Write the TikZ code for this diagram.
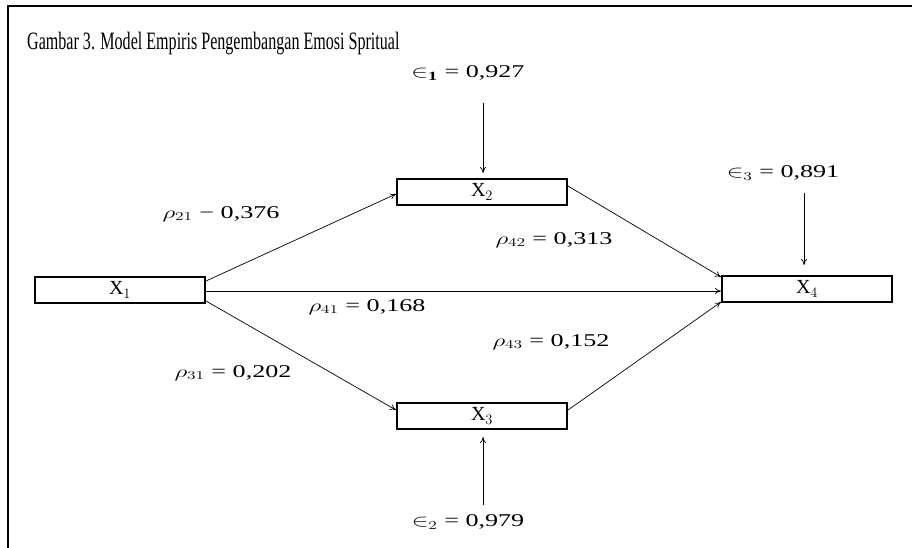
\documentclass[tikz,border=0pt]{standalone}
\usepackage{fontspec}
\setmainfont{Liberation Serif}
\usetikzlibrary{arrows.meta}
\newcommand\widetext[1]{\scalebox{1.45}[1]{#1}}
\begin{document}
\begin{tikzpicture}[x=1pt,y=-1pt,
  var/.style={draw,line width=2pt,minimum width=170pt,minimum height=26pt,inner sep=0pt,font=\fontsize{20}{20}\selectfont},
  path/.style={line width=0.7pt,-{To[length=6pt,width=6pt]}},
  lab/.style={font=\fontsize{18}{18}\selectfont,inner sep=0pt}]
\useasboundingbox (0,0) rectangle (912,548);
\draw[line width=1.2pt] (8,548) -- (8,6) -- (912,6);
\node[anchor=base west,inner sep=0pt,font=\fontsize{25}{25}\selectfont] (title) at (27,50) {\scalebox{0.643}[1]{Gambar 3. Model Empiris Pengembangan Emosi Spritual}};
\node[var] (x1) at (120,290) {X$_1$};
\node[var] (x2) at (482,192) {X$_2$};
\node[var] (x3) at (482,416) {X$_3$};
\node[var] (x4) at (807,289) {X$_4$};
\node[lab] (e1) at (468,73) {\widetext{$\in_{\mathbf 1}$ = 0,927}};
\node[lab] (e3) at (783,173) {\widetext{$\in_3$ = 0,891}};
\node[lab] (e2) at (468,522) {\widetext{$\in_2$ = 0,979}};
\coordinate (e1s) at (483,103);
\coordinate (e1t) at (483,173);
\coordinate (e3s) at (804,193);
\coordinate (e3t) at (804,265);
\coordinate (e2s) at (483,505);
\coordinate (e2t) at (483,437);
\draw[path] (e1s) -- (e1t);
\draw[path] (e3s) -- (e3t);
\draw[path] (e2s) -- (e2t);
\draw[path] (x1.east |- 0,281) -- (x2.west |- 0,194);
\draw[path] (x1.east |- 0,291) -- (x4.west |- 0,291);
\draw[path] (x1.east |- 0,301) -- (x3.west |- 0,410);
\draw[path] (x2.east |- 0,186) -- (x4.west |- 0,277);
\draw[path] (x3.east |- 0,410) -- (x4.west |- 0,302);
\node[lab] (p21) at (221,214) {\widetext{$\rho_{21}$ − 0,376}};
\node[lab] (p42) at (554,240) {\widetext{$\rho_{42}$ = 0,313}};
\node[lab] (p41) at (367,307) {\widetext{$\rho_{41}$ = 0,168}};
\node[lab] (p43) at (551,342) {\widetext{$\rho_{43}$ = 0,152}};
\node[lab] (p31) at (233,373) {\widetext{$\rho_{31}$ = 0,202}};
\end{tikzpicture}
\end{document}
